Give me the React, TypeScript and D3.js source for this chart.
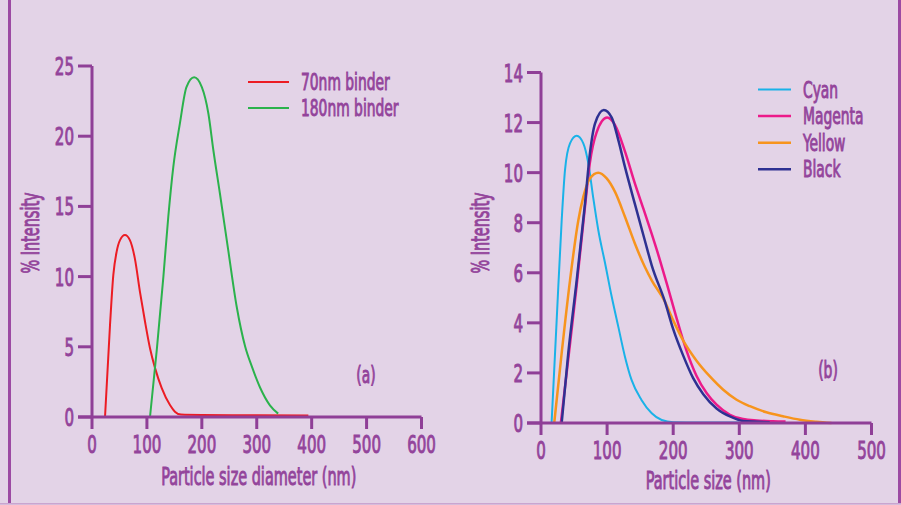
import React from "react";
import * as d3 from "d3";

const W = 901;
const H = 505;

// panel (a): particle size diameter vs % intensity
const binder70X = [23.7, 32.8, 38.8, 45, 51, 60, 69, 78, 87.4, 96.5, 105.6, 114.7, 127, 142, 151, 162, 200, 300, 394];
const binder70Y = [0, 6.55, 10.1, 11.8, 12.6, 12.96, 12.6, 11.3, 8.9, 6.8, 4.9, 3.5, 2.06, 0.85, 0.38, 0.17, 0.14, 0.12, 0.1];
const binder180X = [105.6, 118, 130, 139, 148, 160, 172, 186, 200, 212, 221, 233, 248, 263.5, 279, 291, 306, 324, 339];
const binder180Y = [0, 4.8, 10, 14.3, 17.8, 20.9, 23.5, 24.2, 23.5, 21.6, 19, 15.9, 11.9, 7.85, 5, 3.6, 2.1, 0.83, 0.24];
const ticksA_X = [0, 100, 200, 300, 400, 500, 600];
const ticksA_Y = [0, 5, 10, 15, 20, 25];

// panel (b): ink particle size
const cyanX = [16, 23.7, 31.3, 36.3, 43.9, 54, 64, 71.6, 79, 86.7, 96.8, 107, 117, 127, 137, 152, 167.5, 182.6, 200, 240, 300];
const cyanY = [0, 4.1, 8.1, 10.1, 11.17, 11.47, 11.17, 10.37, 9.0, 7.7, 6.4, 5.04, 3.84, 2.65, 1.72, 0.92, 0.39, 0.12, 0.03, 0.02, 0.02];
const magentaX = [30, 41, 54, 66, 74, 84, 100, 112, 127, 142, 155, 167.5, 180, 190, 205, 220, 235, 250.5, 265.6, 285.8, 306, 326, 351, 370];
const magentaY = [0, 2.5, 5.5, 8.5, 10.4, 11.6, 12.2, 11.9, 10.85, 9.57, 8.55, 7.55, 6.5, 5.6, 4.2, 2.9, 1.9, 1.2, 0.73, 0.33, 0.16, 0.1, 0.07, 0.06];
const yellowX = [20, 31.3, 43.9, 56.5, 64, 74, 86.7, 99.4, 112, 127, 142, 157, 167.5, 187.6, 200, 215, 235, 255.5, 275.7, 295.9, 316, 341, 366, 391.6, 416.8, 439.5];
const yellowY = [0, 2.8, 5.7, 8.1, 9.03, 9.77, 10.0, 9.77, 9.23, 8.24, 7.17, 6.24, 5.7, 4.84, 4.1, 3.3, 2.5, 1.86, 1.33, 0.93, 0.67, 0.43, 0.27, 0.13, 0.05, 0];
const blackX = [31.3, 41.3, 54, 66.6, 74, 81.7, 95, 107, 117, 127, 142, 157, 167.5, 187.6, 200, 215, 230, 245.5, 265.6, 285.8, 306, 346];
const blackY = [0, 2.8, 5.7, 8.77, 10.77, 11.96, 12.5, 12.2, 11.3, 10.23, 8.75, 7.3, 6.3, 4.84, 3.75, 2.7, 1.8, 1.15, 0.58, 0.26, 0.08, 0.03];
const ticksB_X = [0, 100, 200, 300, 400, 500];
const ticksB_Y = [0, 2, 4, 6, 8, 10, 12, 14];

const PURPLE = "#8f3f97";
const TEXT = "#93449b";
const BG = "#e3d3e7";
const FONT = "'DejaVu Sans Condensed', 'DejaVu Sans', sans-serif";
const SQUEEZE = 0.67; // the original font is a tall condensed face

type Series = { name: string; xs: number[]; ys: number[]; color: string; width: number };

function Txt(props: { x: number; y: number; anchor?: string; size: number; children: React.ReactNode; rotate?: number }) {
  const { x, y, anchor = "start", size, children, rotate = 0 } = props;
  return (
    <text
      transform={`translate(${x},${y}) rotate(${rotate}) scale(${SQUEEZE},1)`}
      textAnchor={anchor}
      fontFamily={FONT}
      fontSize={size}
      fill={TEXT}
      stroke={TEXT}
      strokeWidth={0.9}
    >
      {children}
    </text>
  );
}

function Panel(props: {
  x0: number; x1: number; y0: number; y1: number;
  xMax: number; yMax: number; xTicks: number[]; yTicks: number[];
  series: Series[]; xTitle: string; xTitleY: number; yTitleX: number; label: string; labelX: number; labelY: number;
  legendX: number; legendY: number; legendStep: number; legendLen: number;
}) {
  const p = props;
  const x = d3.scaleLinear().domain([0, p.xMax]).range([p.x0, p.x1]);
  const y = d3.scaleLinear().domain([0, p.yMax]).range([p.y0, p.y1]);
  const line = d3.line<[number, number]>().x((d) => x(d[0])).y((d) => y(d[1])).curve(d3.curveMonotoneX);
  return (
    <g>
      {p.series.map((s) => (
        <path key={s.name} d={line(s.xs.map((v, i) => [v, s.ys[i]] as [number, number])) || ""}
          fill="none" stroke={s.color} strokeWidth={s.width} strokeLinejoin="round" />
      ))}
      {/* axes */}
      <line x1={p.x0} x2={p.x0} y1={p.y0} y2={p.y1} stroke={PURPLE} strokeWidth={3} />
      <line x1={p.x0 - 14} x2={p.x1} y1={p.y0} y2={p.y0} stroke={PURPLE} strokeWidth={3} />
      {p.yTicks.map((t) => (
        <g key={"y" + t}>
          <line x1={p.x0 - 14} x2={p.x0} y1={y(t)} y2={y(t)} stroke={PURPLE} strokeWidth={3} />
          <Txt x={p.x0 - 18} y={y(t) + 9} anchor="end" size={25}>{t}</Txt>
        </g>
      ))}
      {p.xTicks.map((t) => (
        <g key={"x" + t}>
          <line x1={x(t)} x2={x(t)} y1={p.y0} y2={p.y0 + 12} stroke={PURPLE} strokeWidth={3} />
          <Txt x={x(t)} y={p.y0 + 36} anchor="middle" size={25}>{t}</Txt>
        </g>
      ))}
      <Txt x={(p.x0 + p.x1) / 2 + 2} y={p.xTitleY} anchor="middle" size={24}>{p.xTitle}</Txt>
      <Txt x={p.yTitleX} y={233} anchor="middle" size={24} rotate={-90}>% Intensity</Txt>
      <Txt x={p.labelX} y={p.labelY} anchor="middle" size={23}>{p.label}</Txt>
      {p.series.map((s, i) => (
        <g key={"l" + s.name}>
          <line x1={p.legendX} x2={p.legendX + p.legendLen} y1={p.legendY + i * p.legendStep} y2={p.legendY + i * p.legendStep}
            stroke={s.color} strokeWidth={s.width} />
          <Txt x={p.legendX + p.legendLen + 12} y={p.legendY + i * p.legendStep + 8} size={23}>{s.name}</Txt>
        </g>
      ))}
    </g>
  );
}

export default function App() {
  const seriesA: Series[] = [
    { name: "70nm binder", xs: binder70X, ys: binder70Y, color: "#ec1c24", width: 2 },
    { name: "180nm binder", xs: binder180X, ys: binder180Y, color: "#2bb24c", width: 2 },
  ];
  const seriesB: Series[] = [
    { name: "Cyan", xs: cyanX, ys: cyanY, color: "#1ab2e8", width: 2 },
    { name: "Magenta", xs: magentaX, ys: magentaY, color: "#ec1a8a", width: 2.5 },
    { name: "Yellow", xs: yellowX, ys: yellowY, color: "#f7941d", width: 2.5 },
    { name: "Black", xs: blackX, ys: blackY, color: "#2e3192", width: 2.5 },
  ];
  return (
    <div style={{ position: "fixed", left: 0, top: 0 }}>
      <svg width={W} height={H} style={{ display: "block" }}>
        <rect x={0} y={0} width={W} height={H} fill={BG} />
        <rect x={8} y={0} width={3} height={503} fill="#9c4aa3" />
        <rect x={898} y={0} width={3} height={503} fill="#9c4aa3" />
        <rect x={0} y={503} width={W} height={1.5} fill="#c9a5d0" />
        <Panel x0={92} x1={421.5} y0={417} y1={66} xMax={600} yMax={25}
          xTicks={ticksA_X} yTicks={ticksA_Y} series={seriesA}
          xTitle="Particle size diameter (nm)" xTitleY={485} yTitleX={39} label="(a)" labelX={366} labelY={383}
          legendX={248} legendY={82} legendStep={26} legendLen={41} />
        <Panel x0={541} x1={871.5} y0={423} y1={72.5} xMax={500} yMax={14}
          xTicks={ticksB_X} yTicks={ticksB_Y} series={seriesB}
          xTitle="Particle size (nm)" xTitleY={489} yTitleX={489} label="(b)" labelX={828} labelY={378}
          legendX={758} legendY={89.5} legendStep={26.6} legendLen={33} />
      </svg>
    </div>
  );
}
